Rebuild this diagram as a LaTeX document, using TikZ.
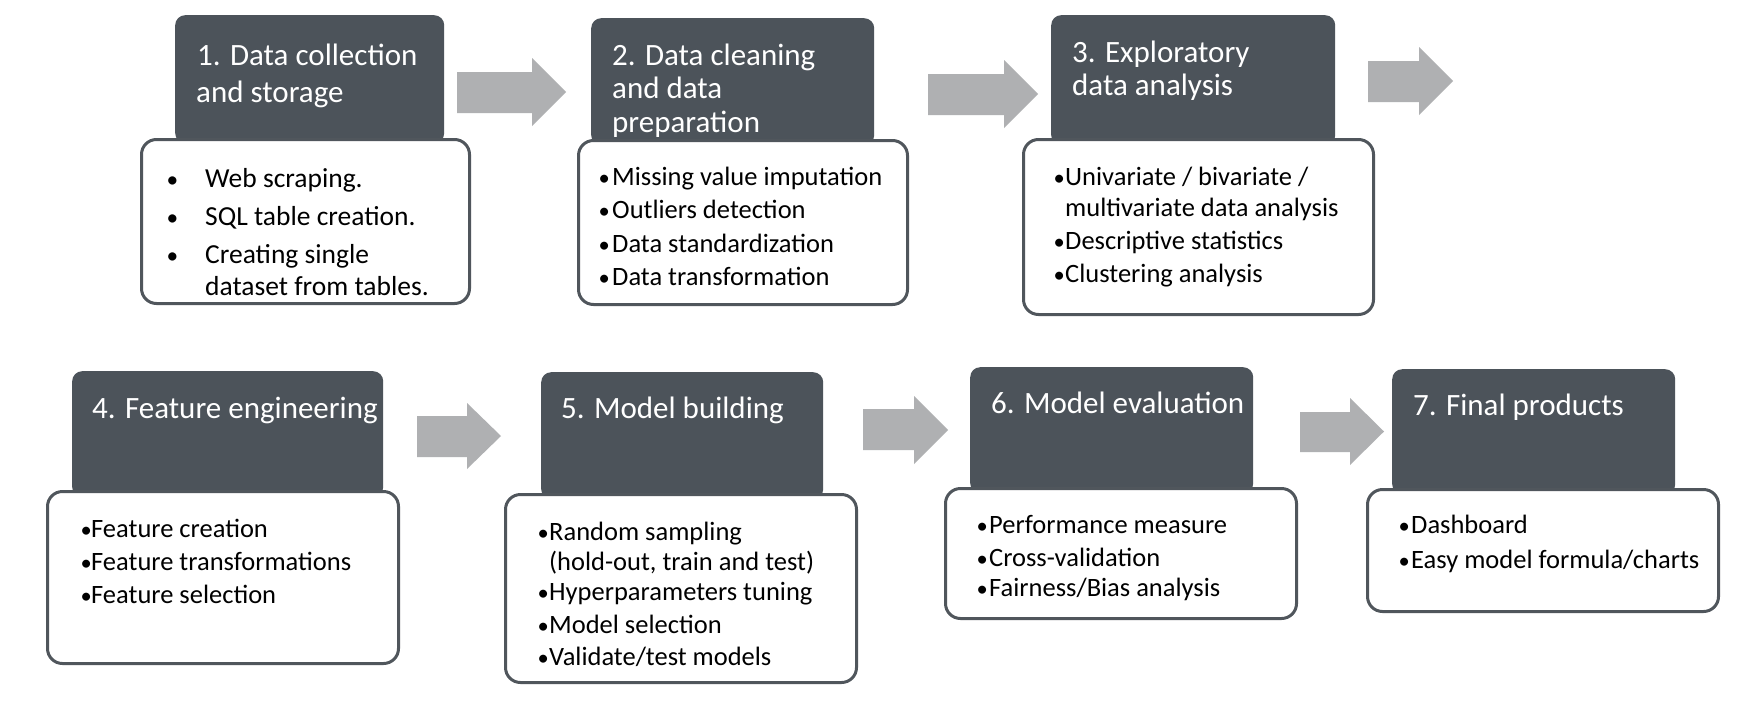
\documentclass[tikz,border=0pt]{standalone}
\usepackage{fontspec}
\usepackage{graphicx}
\setmainfont{Carlito}
\definecolor{darkfill}{RGB}{76,83,90}
\definecolor{edgegray}{RGB}{80,86,92}
\definecolor{arrowgray}{RGB}{175,176,178}
\tikzset{
  headbox/.style={fill=darkfill, draw=none, rounded corners=10pt, inner sep=0pt, anchor=north west},
  detailbox/.style={fill=white, draw=edgegray, line width=3pt, rounded corners=15pt, inner sep=0pt, anchor=north west},
  ttl/.style={text=white, font=\fontsize{31}{37}\selectfont, inner sep=0pt, anchor=base west},
  itm/.style={text=black, font=\fontsize{26.5}{32}\selectfont, inner sep=0pt, anchor=base west},
  itmbig/.style={text=black, font=\fontsize{27.5}{33}\selectfont, inner sep=0pt, anchor=base west},
  blockarrow/.style={fill=arrowgray, draw=none},
}
\newcommand{\bul}[1]{\llap{\makebox[#1][l]{\kern-1.5pt\scalebox{0.85}{•}}}}
\newcommand{\blockarr}[7]{% x0, xh, x1, shaft top, shaft bottom, head top, head bottom
  \fill[blockarrow] (#1,#4) -- (#2,#4) -- (#2,#6) -- (#3,{(#6+#7)/2}) -- (#2,#7) -- (#2,#5) -- (#1,#5) -- cycle;}
\begin{document}
\begin{tikzpicture}[x=1pt,y=-1pt]
\fill[white] (0,0) rectangle (1755,715);
\useasboundingbox (0,0) rectangle (1755,715);

% ---------- dark heading boxes ----------
\node[headbox, minimum width=269pt, minimum height=128pt] (h1) at (175,15) {};
\node[headbox, minimum width=283pt, minimum height=127pt] (h2) at (591,18) {};
\node[headbox, minimum width=284pt, minimum height=130pt] (h3) at (1051,15) {};
\node[headbox, minimum width=311pt, minimum height=126pt] (h4) at (72,371) {};
\node[headbox, minimum width=282pt, minimum height=127pt] (h5) at (541,372) {};
\node[headbox, minimum width=283pt, minimum height=126pt] (h6) at (970,367) {};
\node[headbox, minimum width=283pt, minimum height=125pt] (h7) at (1392,369) {};

% ---------- white detail boxes ----------
\node[detailbox, minimum width=328pt, minimum height=164pt] (w1) at (140,138) {};
\node[detailbox, minimum width=329pt, minimum height=164pt] (w2) at (577,139) {};
\node[detailbox, minimum width=350pt, minimum height=175pt] (w3) at (1022,138) {};
\node[detailbox, minimum width=351pt, minimum height=172pt] (w4) at (46,490) {};
\node[detailbox, minimum width=351pt, minimum height=188pt] (w5) at (504,493) {};
\node[detailbox, minimum width=351pt, minimum height=130pt] (w6) at (944,487) {};
\node[detailbox, minimum width=351pt, minimum height=122pt] (w7) at (1366,488) {};

% ---------- block arrows ----------
\blockarr{457}{532}{566}{72}{113}{58}{126}
\blockarr{928}{1004}{1038}{74}{115}{60}{128}
\blockarr{1368}{1419}{1453}{61}{102}{47}{115}
\blockarr{417}{467}{501}{416}{457}{403}{469}
\blockarr{863}{914}{948}{409}{450}{396}{464}
\blockarr{1300}{1350}{1384}{412}{452}{398}{465}

% ---------- titles ----------
\node[ttl] (t1a) at (197,65) {1. Data collection};
\node[ttl] (t1b) at (196,102) {and storage};
\node[ttl] (t2a) at (612,65) {2. Data cleaning};
\node[ttl] (t2b) at (612,98) {and data};
\node[ttl] (t2c) at (612,132) {preparation};
\node[ttl] (t3a) at (1072,62) {3. Exploratory};
\node[ttl] (t3b) at (1072,95) {data analysis};
\node[ttl] (t4a) at (92,418) {4. Feature engineering};
\node[ttl] (t5a) at (561,418) {5. Model building};
\node[ttl] (t6a) at (991,413) {6. Model evaluation};
\node[ttl] (t7a) at (1413,415) {7. Final products};

% ---------- items ----------
\node[itmbig] (i1a) at (205,187) {\bul{37pt}Web scraping.};
\node[itmbig] (i1b) at (205,225) {\bul{37pt}SQL table creation.};
\node[itmbig] (i1c) at (205,263) {\bul{37pt}Creating single};
\node[itmbig] (i1d) at (205,295) {dataset from tables.};

\node[itm] (i2a) at (612,185) {\bul{12pt}Missing value imputation};
\node[itm] (i2b) at (612,218) {\bul{12pt}Outliers detection};
\node[itm] (i2c) at (612,252) {\bul{12pt}Data standardization};
\node[itm] (i2d) at (612,285) {\bul{12pt}Data transformation};

\node[itm] (i3a) at (1065,185) {\bul{10pt}Univariate / bivariate /};
\node[itm] (i3b) at (1065,216) {multivariate data analysis};
\node[itm] (i3c) at (1065,249) {\bul{10pt}Descriptive statistics};
\node[itm] (i3d) at (1065,282) {\bul{10pt}Clustering analysis};

\node[itm] (i4a) at (91,537) {\bul{9pt}Feature creation};
\node[itm] (i4b) at (91,570) {\bul{9pt}Feature transformations};
\node[itm] (i4c) at (91,603) {\bul{9pt}Feature selection};

\node[itm] (i5a) at (549,540) {\bul{10pt}Random sampling};
\node[itm] (i5b) at (549,570) {(hold-out, train and test)};
\node[itm] (i5c) at (549,600) {\bul{10pt}Hyperparameters tuning};
\node[itm] (i5d) at (549,633) {\bul{10pt}Model selection};
\node[itm] (i5e) at (549,665) {\bul{10pt}Validate/test models};

\node[itm] (i6a) at (989,533) {\bul{11pt}Performance measure};
\node[itm] (i6b) at (989,566) {\bul{11pt}Cross-validation};
\node[itm] (i6c) at (989,596) {\bul{11pt}Fairness/Bias analysis};

\node[itm] (i7a) at (1411,533) {\bul{11pt}Dashboard};
\node[itm] (i7b) at (1411,568) {\bul{11pt}Easy model formula/charts};
\end{tikzpicture}
\end{document}
